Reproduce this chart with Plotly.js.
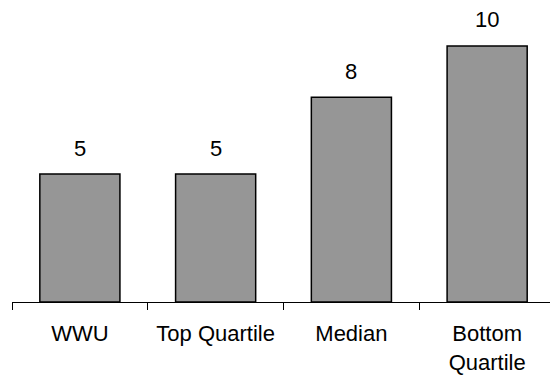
<!DOCTYPE html>
<html>
<head>
<meta charset="utf-8">
<script src="https://cdn.plot.ly/plotly-3.0.1.min.js"></script>
<style>
  html, body { margin: 0; padding: 0; background: #ffffff; }
  #chart { width: 550px; height: 375px; }
</style>
</head>
<body>
<div id="chart"></div>
<script>
// Category labels and the value of each bar
const categories = ['WWU', 'Top Quartile', 'Median', 'Bottom<br>Quartile'];
const values = [5, 5, 8, 10];

const fontFamily = 'Liberation Sans, Arial, Helvetica, sans-serif';
const fontSize = 22;

const bars = {
  type: 'bar',
  x: categories,
  y: values,
  width: 0.59,
  marker: {
    color: '#969696',
    line: { color: '#000000', width: 1.5 }
  },
  hoverinfo: 'skip'
};

// Value labels sit a fixed distance above each bar top
const labels = categories.map((c, i) => ({
  x: c,
  y: values[i],
  xref: 'x',
  yref: 'y',
  text: String(values[i]),
  showarrow: false,
  yanchor: 'middle',
  yshift: 26,
  font: { family: fontFamily, size: fontSize, color: '#000000' }
}));

const layout = {
  width: 550,
  height: 375,
  margin: { l: 12, r: 0, t: 10, b: 73 },
  paper_bgcolor: '#ffffff',
  plot_bgcolor: '#ffffff',
  showlegend: false,
  font: { family: fontFamily, size: fontSize, color: '#000000' },
  xaxis: {
    type: 'category',
    range: [-0.5, 3.463],
    showline: true,
    linecolor: '#000000',
    linewidth: 1,
    ticks: 'outside',
    tickson: 'boundaries',
    ticklen: 7,
    tickcolor: '#000000',
    tickwidth: 1,
    showgrid: false,
    zeroline: false,
    ticklabelstandoff: 12,
    tickfont: { family: fontFamily, size: fontSize, color: '#000000' }
  },
  yaxis: {
    range: [0, 11.406],
    visible: false,
    showgrid: false,
    zeroline: false
  },
  annotations: labels
};

Plotly.newPlot('chart', [bars], layout, { staticPlot: true, displayModeBar: false });
</script>
</body>
</html>
